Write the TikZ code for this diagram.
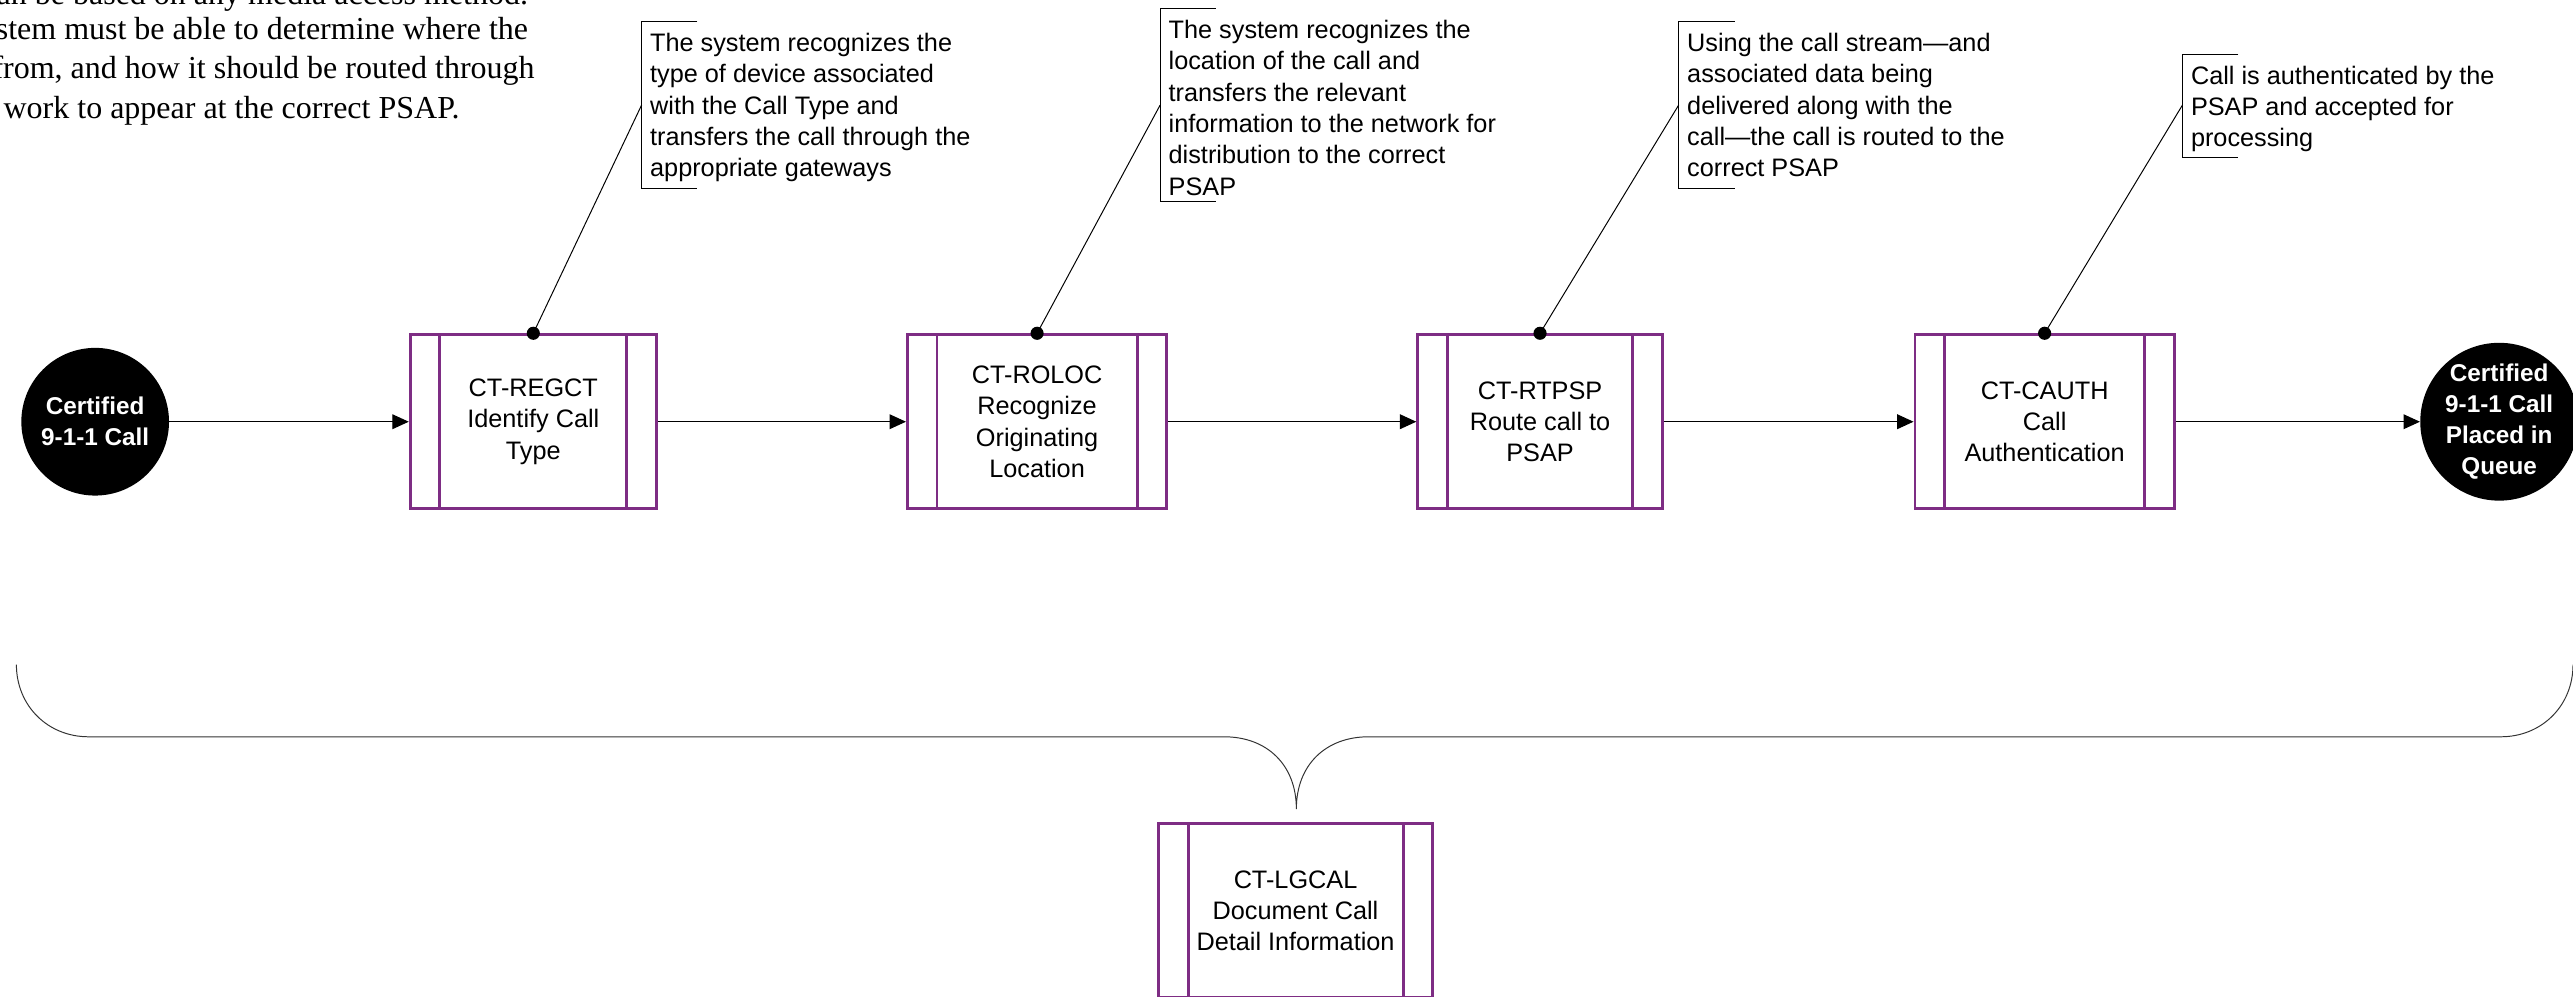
\documentclass[tikz,border=0pt]{standalone}
\usepackage{fontspec}
\setmainfont{Liberation Serif}
\newfontfamily\arialf{Liberation Sans}
\usetikzlibrary{arrows.meta}
\definecolor{purp}{RGB}{126,45,132}
\begin{document}
\begin{tikzpicture}[x=1pt,y=-1pt,
  proc/.style={draw=purp, line width=1.8pt, minimum height=106pt, inner sep=0pt,
    font=\arialf\fontsize{15.4}{19}\selectfont, align=center,
    path picture={\draw[purp,line width=1.8pt]
      ([xshift=18pt]path picture bounding box.north west) -- ([xshift=18pt]path picture bounding box.south west)
      ([xshift=-18pt]path picture bounding box.north east) -- ([xshift=-18pt]path picture bounding box.south east);}},
  term/.style={circle, fill=black, minimum size=90pt, inner sep=0pt, text=white,
    font=\arialf\bfseries\fontsize{14.8}{19}\selectfont, align=center},
  conn/.style={line width=0.7pt, -{Triangle[length=10pt,width=9pt]}},
  lead/.style={line width=0.6pt},
  note/.style={inner sep=0pt, align=left, font=\arialf\fontsize{15.4}{19.1}\selectfont},
  para/.style={inner sep=0pt, font=\fontsize{19.5}{24}\selectfont},
  dotm/.style={fill=black},
  bracestyle/.style={line width=0.6pt, draw=black!80}]
\useasboundingbox (0,0) rectangle (1568,607);
\clip (0,0) rectangle (1568,607);

% left paragraph fragment
\node[para, anchor=base east] (p1) at (322,3) {an be based on any media access method.};
\node[para, anchor=base east] (p2) at (322,24) {stem must be able to determine where the};
\node[para, anchor=base east] (p3) at (326,48) {from, and how it should be routed through};
\node[para, anchor=base west] (p4) at (2,72) {work to appear at the correct PSAP.};

% terminals and processes
\node[term] (start) at (58,257) {Certified\\9-1-1 Call};
\node[proc, minimum width=150pt] (b1) at (325,257) {CT-REGCT\\Identify Call\\Type};
\node[proc, minimum width=158pt] (b2) at (632,257) {CT-ROLOC\\Recognize\\Originating\\Location};
\node[proc, minimum width=149pt] (b3) at (938.5,257) {CT-RTPSP\\Route call to\\PSAP};
\node[proc, minimum width=158pt] (b4) at (1246,257) {CT-CAUTH\\Call\\Authentication};
\node[term] (end) at (1523,257) {Certified\\9-1-1 Call\\Placed in\\Queue};
\node[proc, minimum width=167pt] (b5) at (789.5,555) {CT-LGCAL\\Document Call\\Detail Information};

% flow
\draw[conn] (start) -- (b1);
\draw[conn] (b1) -- (b2);
\draw[conn] (b2) -- (b3);
\draw[conn] (b3) -- (b4);
\draw[conn] (b4) -- (end);

% callouts
\coordinate (k1) at (391,64);
\coordinate (k2) at (707,64);
\coordinate (k3) at (1023,64);
\coordinate (k4) at (1330,64);
\draw[lead] (425,13) -- (391,13) -- (391,115) -- (425,115);
\draw[lead] (741,5) -- (707,5) -- (707,123) -- (741,123);
\draw[lead] (1057,13) -- (1023,13) -- (1023,115) -- (1057,115);
\draw[lead] (1364,33) -- (1330,33) -- (1330,96) -- (1364,96);
\draw[lead] (b1.north) -- (k1);
\draw[lead] (b2.north) -- (k2);
\draw[lead] (b3.north) -- (k3);
\draw[lead] (b4.north) -- (k4);
\fill[dotm] (b1.north) circle (4);
\fill[dotm] (b2.north) circle (4);
\fill[dotm] (b3.north) circle (4);
\fill[dotm] (b4.north) circle (4);

\node[note, anchor=north west] (n1) at (396,20) {The system recognizes the\\type of device associated\\with the Call Type and\\transfers the call through the\\appropriate gateways};
\node[note, anchor=north west] (n2) at (712,12) {The system recognizes the\\location of the call and\\transfers the relevant\\information to the network for\\distribution to the correct\\PSAP};
\node[note, anchor=north west] (n3) at (1028,20) {Using the call stream—and\\associated data being\\delivered along with the\\call—the call is routed to the\\correct PSAP};
\node[note, anchor=north west] (n4) at (1335,40) {Call is authenticated by the\\PSAP and accepted for\\processing};

% brace
\draw[bracestyle] (10,405) .. controls (10,430) and (29,449) .. (54,449) -- (746,449)
  .. controls (772,449) and (790,466) .. (790,493)
  .. controls (790,466) and (808,449) .. (834,449) -- (1524,449)
  .. controls (1549,449) and (1568,430) .. (1568,405);
\end{tikzpicture}
\end{document}
